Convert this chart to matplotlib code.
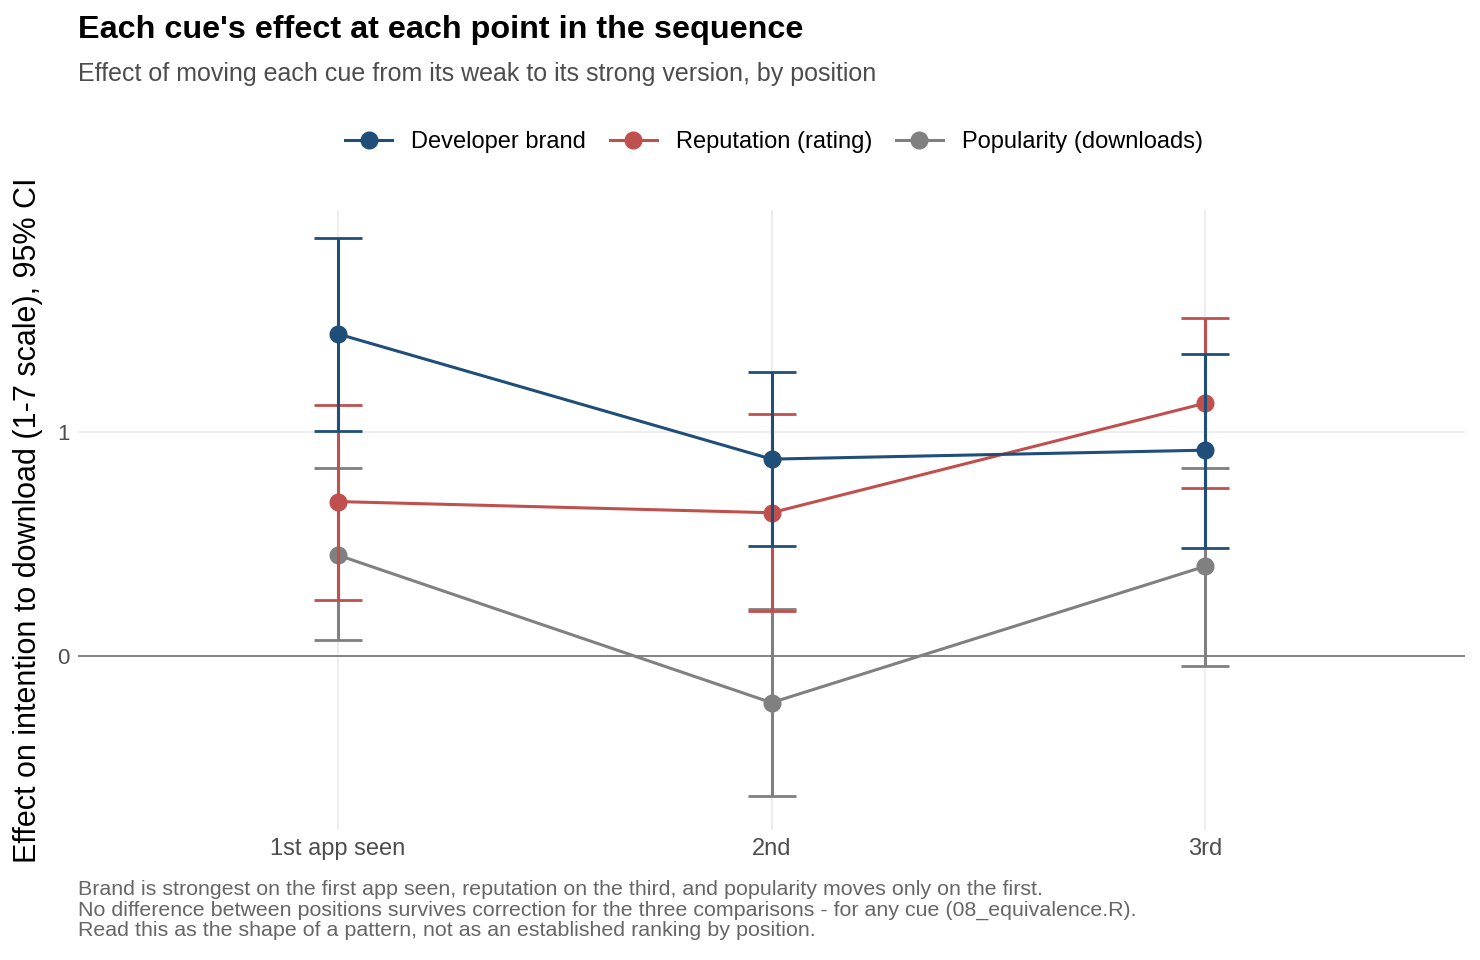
import matplotlib
matplotlib.use("Agg")
import matplotlib.pyplot as plt
from matplotlib.lines import Line2D

positions = ["1st app seen", "2nd", "3rd"]
series = ["Developer brand", "Reputation (rating)", "Popularity (downloads)"]
colors = ["#1F4E79", "#C0504D", "#808080"]
est = [[1.44, 0.88, 0.92], [0.69, 0.64, 1.13], [0.45, -0.21, 0.40]]
lo = [[1.005, 0.49, 0.48], [0.25, 0.20, 0.75], [0.07, -0.63, -0.045]]
hi = [[1.87, 1.27, 1.35], [1.12, 1.08, 1.51], [0.84, 0.21, 0.84]]

plt.rcParams['font.family'] = ['Liberation Sans', 'DejaVu Sans']
fig = plt.figure(figsize=(14.8, 9.6), dpi=100)
ax = fig.add_axes([78/1480, 130/960, (1465-78)/1480, (830-210)/960])
x = [1, 2, 3]
for i, s in enumerate(series):
    ax.errorbar(x, est[i], yerr=[[e - l for e, l in zip(est[i], lo[i])], [h - e for e, h in zip(est[i], hi[i])]],
                color=colors[i], lw=2.2, capsize=17, capthick=2, marker='o', ms=12,
                zorder=3 + (2 - i))
ax.axhline(0, color='#7a7a7a', lw=1.3, zorder=2)
ax.set_xlim(0.4, 3.6)
ax.set_ylim(-0.78, 1.995)
ax.set_xticks(x)
ax.set_xticklabels(positions, fontsize=17, color='#4d4d4d')
ax.set_yticks([0, 1])
ax.set_yticklabels(['0', '1'], fontsize=16, color='#4d4d4d')
ax.tick_params(length=0, pad=6)
ax.grid(True, color='#ebebeb', lw=1.2, zorder=0)
for sp in ax.spines.values():
    sp.set_visible(False)
ax.set_ylabel("Effect on intention to download (1-7 scale), 95% CI", fontsize=22)
ax.yaxis.set_label_coords(-0.025, 0.5)
handles = [Line2D([], [], color=c, lw=2.2, marker='o', ms=12) for c in colors]
fig.legend(handles, series, loc='center', bbox_to_anchor=(0.523, 1 - 142/960), ncol=3, frameon=False,
           fontsize=17, handlelength=2, columnspacing=1.0, handletextpad=0.8)
fig.text(78/1480, 1 - 30/960, "Each cue's effect at each point in the sequence", fontsize=23.3,
         fontweight='bold', va='center')
fig.text(78/1480, 1 - 74/960, "Effect of moving each cue from its weak to its strong version, by position",
         fontsize=18, color='#4d4d4d', va='center')
fig.text(78/1480, 1 - 910/960,
         "Brand is strongest on the first app seen, reputation on the third, and popularity moves only on the first.\n"
         "No difference between positions survives correction for the three comparisons - for any cue (08_equivalence.R).\n"
         "Read this as the shape of a pattern, not as an established ranking by position.",
         fontsize=15.4, color='#666666', va='center', linespacing=1.1)
fig.savefig("out.png")
